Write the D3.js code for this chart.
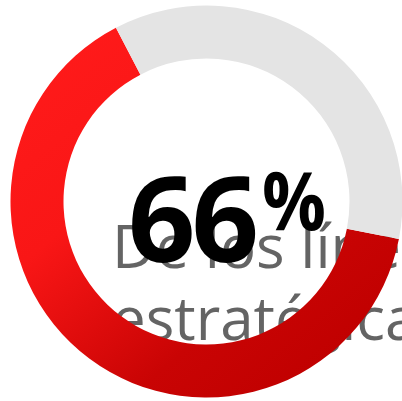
<!DOCTYPE html>
<html>
<head>
<meta charset="utf-8">
<script src="https://cdn.jsdelivr.net/npm/d3@7"></script>
<style>
  html, body { margin: 0; padding: 0; background: #fff; overflow: hidden; }
  svg { display: block; }
</style>
</head>
<body>
<div id="chart"></div>
<script>
// shares (red part, grey rest)
const categories = ["Cumplido", "Restante"];
const values = [64.3, 35.7];
const labelValue = "66";
const labelUnit = "%";
const textLines = ["De los líneas", "estratégicas"];

const width = 402;
const height = 401;
const cx = 206.5, cy = 201.5;
const outerR = 196, innerR = 143;

const svg = d3.select("#chart")
  .append("svg")
  .attr("width", width)
  .attr("height", height);

// gradient runs top-left to bottom-right, coords relative to ring centre
const defs = svg.append("defs");
const grad = defs.append("linearGradient")
  .attr("id", "redGrad")
  .attr("gradientUnits", "userSpaceOnUse")
  .attr("x1", 60 - cx).attr("y1", 40 - cy)
  .attr("x2", 330 - cx).attr("y2", 370 - cy);
grad.append("stop").attr("offset", "0%").attr("stop-color", "#ff1a1a");
grad.append("stop").attr("offset", "35%").attr("stop-color", "#f91616");
grad.append("stop").attr("offset", "75%").attr("stop-color", "#c90404");
grad.append("stop").attr("offset", "100%").attr("stop-color", "#c00000");

// grey caption sits behind the ring
const caption = svg.append("g")
  .attr("font-family", "'Open Sans', sans-serif")
  .attr("font-size", 60)
  .attr("fill", "#646464");
caption.selectAll("text")
  .data(textLines)
  .enter().append("text")
  .attr("x", 112)
  .attr("y", (d, i) => 268 + i * 72)
  .text(d => d);

const color = d3.scaleOrdinal()
  .domain(categories)
  .range(["url(#redGrad)", "#e4e4e4"]);

const start = 101 * Math.PI / 180;
const pie = d3.pie()
  .sort(null)
  .startAngle(start)
  .endAngle(start + 2 * Math.PI)
  .value(d => d);

const arc = d3.arc()
  .innerRadius(innerR)
  .outerRadius(outerR);

svg.append("g")
  .attr("transform", `translate(${cx},${cy})`)
  .selectAll("path")
  .data(pie(values))
  .enter().append("path")
  .attr("d", arc)
  .attr("fill", (d, i) => color(categories[i]));

// big percentage on top
const big = svg.append("text")
  .attr("font-family", "'Open Sans', sans-serif")
  .attr("font-weight", "bold")
  .attr("fill", "#000");
big.append("tspan")
  .attr("x", 128)
  .attr("y", 262)
  .attr("font-size", 118)
  .attr("letter-spacing", -4)
  .text(labelValue);
big.append("tspan")
  .attr("x", 262)
  .attr("y", 230)
  .attr("font-size", 80)
  .attr("textLength", 64)
  .attr("lengthAdjust", "spacingAndGlyphs")
  .text(labelUnit);
</script>
</body>
</html>
